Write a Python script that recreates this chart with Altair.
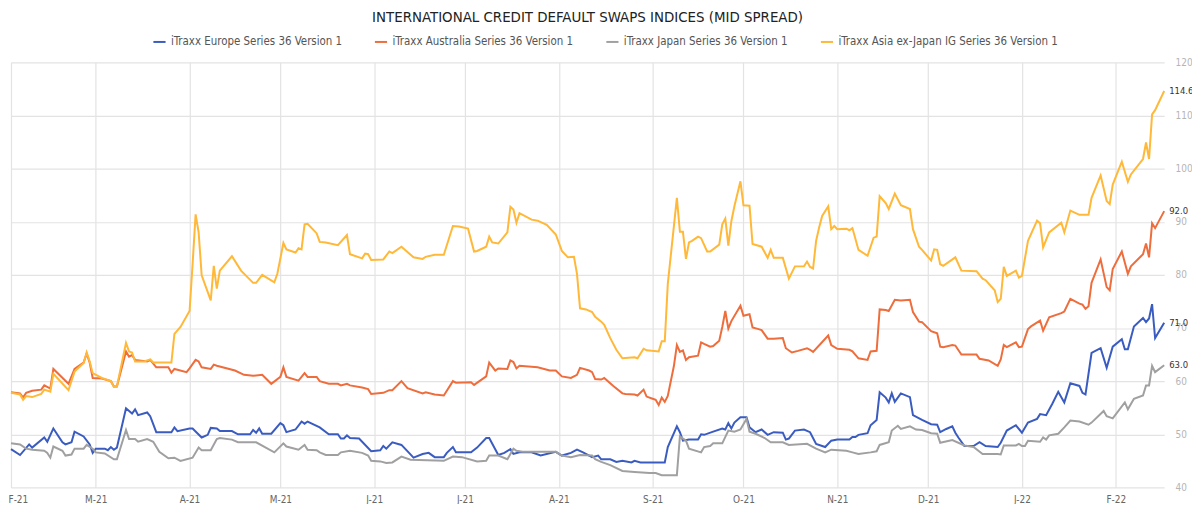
import altair as alt
import pandas as pd

FONT = "Liberation Sans Narrow, DejaVu Sans Condensed, sans-serif"

SERIES = [
    "iTraxx Europe Series 36 Version 1",
    "iTraxx Australia Series 36 Version 1",
    "iTraxx Japan Series 36 Version 1",
    "iTraxx Asia ex-Japan IG Series 36 Version 1",
]
COLORS = ["#3a5cc0", "#ee6d3c", "#a0a0a0", "#ffb837"]

EUROPE_DATES = [
    "2021-02-01", "2021-02-04", "2021-02-07", "2021-02-08", "2021-02-12", "2021-02-13", "2021-02-15",
    "2021-02-18", "2021-02-19", "2021-02-21", "2021-02-22", "2021-02-25", "2021-02-27", "2021-02-28",
    "2021-03-01", "2021-03-04", "2021-03-05", "2021-03-06", "2021-03-07", "2021-03-08", "2021-03-11",
    "2021-03-13", "2021-03-14", "2021-03-15", "2021-03-18", "2021-03-19", "2021-03-21", "2021-03-26",
    "2021-03-27", "2021-03-28", "2021-04-01", "2021-04-02", "2021-04-05", "2021-04-07", "2021-04-08",
    "2021-04-10", "2021-04-11", "2021-04-15", "2021-04-17", "2021-04-21", "2021-04-22", "2021-04-23",
    "2021-04-24", "2021-04-25", "2021-04-28", "2021-05-01", "2021-05-02", "2021-05-03", "2021-05-06",
    "2021-05-08", "2021-05-09", "2021-05-10", "2021-05-14", "2021-05-17", "2021-05-20", "2021-05-21",
    "2021-05-22", "2021-05-23", "2021-05-24", "2021-05-27", "2021-05-31", "2021-06-03", "2021-06-04",
    "2021-06-05", "2021-06-07", "2021-06-10", "2021-06-14", "2021-06-17", "2021-06-19", "2021-06-21",
    "2021-06-24", "2021-06-25", "2021-06-27", "2021-06-28", "2021-07-03", "2021-07-05", "2021-07-08",
    "2021-07-09", "2021-07-12", "2021-07-14", "2021-07-16", "2021-07-17", "2021-07-19", "2021-07-23",
    "2021-07-26", "2021-07-31", "2021-08-02", "2021-08-05", "2021-08-07", "2021-08-09", "2021-08-12",
    "2021-08-14", "2021-08-15", "2021-08-18", "2021-08-20", "2021-08-22", "2021-08-25", "2021-08-26",
    "2021-08-28", "2021-09-03", "2021-09-05", "2021-09-06", "2021-09-09", "2021-09-10", "2021-09-11",
    "2021-09-13", "2021-09-16", "2021-09-17", "2021-09-18", "2021-09-21", "2021-09-24", "2021-09-25",
    "2021-09-26", "2021-09-27", "2021-09-28", "2021-09-30", "2021-10-02", "2021-10-03", "2021-10-05",
    "2021-10-07", "2021-10-09", "2021-10-11", "2021-10-14", "2021-10-15", "2021-10-16", "2021-10-18",
    "2021-10-21", "2021-10-23", "2021-10-25", "2021-10-28", "2021-10-30", "2021-11-01", "2021-11-05",
    "2021-11-06", "2021-11-07", "2021-11-08", "2021-11-11", "2021-11-12", "2021-11-14", "2021-11-15",
    "2021-11-17", "2021-11-18", "2021-11-19", "2021-11-20", "2021-11-22", "2021-11-25", "2021-11-26",
    "2021-11-29", "2021-12-02", "2021-12-04", "2021-12-05", "2021-12-07", "2021-12-09", "2021-12-10",
    "2021-12-11", "2021-12-13", "2021-12-16", "2021-12-18", "2021-12-20", "2021-12-24", "2021-12-25",
    "2021-12-27", "2021-12-30", "2022-01-01", "2022-01-03", "2022-01-06", "2022-01-07", "2022-01-09",
    "2022-01-11", "2022-01-13", "2022-01-15", "2022-01-17", "2022-01-20", "2022-01-21", "2022-01-22",
    "2022-01-24", "2022-01-27", "2022-01-29", "2022-01-31", "2022-02-03", "2022-02-04", "2022-02-05",
    "2022-02-07", "2022-02-10", "2022-02-11", "2022-02-12", "2022-02-13", "2022-02-14", "2022-02-17",
]
EUROPE_VALUES = [
    47.2, 46.1, 48.1, 47.5, 49.4, 48.6, 51.1,
    48.5, 48.1, 48.5, 50.5, 49.6, 48.1, 46.5,
    47.3, 47.3, 47.0, 47.6, 47.1, 47.5, 54.9,
    53.9, 54.7, 53.6, 54.1, 53.4, 50.4, 50.4,
    51.3, 50.6, 51.1, 51.1, 49.4, 49.9, 51.2,
    51.1, 50.6, 50.6, 50.0, 50.0, 50.8, 50.3,
    51.1, 50.1, 50.1, 52.1, 51.7, 50.4, 50.9,
    52.4, 52.0, 52.4, 51.3, 50.0, 50.0, 49.2,
    49.2, 49.8, 49.3, 49.2, 46.8, 47.0, 47.8,
    47.3, 48.5, 48.0, 45.6, 46.3, 46.5, 45.7,
    45.7, 46.5, 47.6, 46.6, 46.6, 47.5, 49.3,
    49.3, 46.1, 46.5, 47.2, 46.3, 46.6, 46.6,
    46.0, 46.7, 46.0, 46.5, 47.1, 46.6, 45.7,
    46.0, 45.3, 45.3, 44.8, 45.0, 44.7, 45.0,
    44.7, 44.7, 44.7, 47.6, 51.5, 50.4, 48.8,
    49.0, 49.0, 50.0, 49.9, 50.5, 51.1, 50.9,
    52.1, 51.1, 52.2, 53.2, 53.2, 51.3, 50.4,
    50.9, 49.9, 50.4, 50.3, 49.0, 49.2, 50.7,
    50.9, 50.4, 48.2, 47.6, 48.8, 49.0, 49.0,
    49.5, 49.5, 49.9, 50.2, 51.7, 52.7, 57.9,
    56.9, 56.0, 57.7, 56.1, 57.7, 57.0, 53.6,
    52.7, 51.9, 51.8, 50.4, 51.0, 51.5, 50.3,
    49.4, 47.8, 47.8, 48.5, 47.8, 47.6, 48.4,
    50.7, 51.7, 50.3, 52.2, 52.9, 53.8, 53.6,
    55.7, 58.0, 56.0, 59.6, 59.1, 57.8, 57.5,
    65.3, 66.2, 62.5, 66.5, 67.9, 66.0, 66.0,
    70.3, 71.9, 71.1, 71.8, 74.5, 68.1, 71.0,
]

AUSTRALIA_DATES = [
    "2021-02-01", "2021-02-04", "2021-02-05", "2021-02-06", "2021-02-08", "2021-02-11", "2021-02-12",
    "2021-02-14", "2021-02-15", "2021-02-20", "2021-02-22", "2021-02-25", "2021-02-26", "2021-02-27",
    "2021-02-28", "2021-03-03", "2021-03-06", "2021-03-07", "2021-03-08", "2021-03-11", "2021-03-12",
    "2021-03-13", "2021-03-14", "2021-03-18", "2021-03-19", "2021-03-21", "2021-03-25", "2021-03-26",
    "2021-03-27", "2021-03-31", "2021-04-01", "2021-04-03", "2021-04-04", "2021-04-05", "2021-04-08",
    "2021-04-09", "2021-04-10", "2021-04-16", "2021-04-19", "2021-04-22", "2021-04-25", "2021-04-28",
    "2021-05-01", "2021-05-02", "2021-05-03", "2021-05-07", "2021-05-09", "2021-05-10", "2021-05-13",
    "2021-05-14", "2021-05-17", "2021-05-20", "2021-05-21", "2021-05-23", "2021-05-24", "2021-05-28",
    "2021-05-30", "2021-05-31", "2021-06-04", "2021-06-06", "2021-06-07", "2021-06-10", "2021-06-12",
    "2021-06-17", "2021-06-18", "2021-06-21", "2021-06-24", "2021-06-27", "2021-06-28", "2021-07-03",
    "2021-07-04", "2021-07-08", "2021-07-09", "2021-07-11", "2021-07-12", "2021-07-15", "2021-07-16",
    "2021-07-17", "2021-07-18", "2021-07-19", "2021-07-25", "2021-07-29", "2021-07-31", "2021-08-02",
    "2021-08-05", "2021-08-07", "2021-08-08", "2021-08-11", "2021-08-12", "2021-08-13", "2021-08-15",
    "2021-08-16", "2021-08-19", "2021-08-22", "2021-08-23", "2021-08-26", "2021-08-27", "2021-08-29",
    "2021-08-30", "2021-09-01", "2021-09-02", "2021-09-03", "2021-09-04", "2021-09-05", "2021-09-06",
    "2021-09-08", "2021-09-09", "2021-09-10", "2021-09-11", "2021-09-12", "2021-09-13", "2021-09-16",
    "2021-09-17", "2021-09-18", "2021-09-20", "2021-09-21", "2021-09-23", "2021-09-24", "2021-09-25",
    "2021-09-26", "2021-09-27", "2021-09-30", "2021-10-01", "2021-10-03", "2021-10-04", "2021-10-06",
    "2021-10-07", "2021-10-09", "2021-10-11", "2021-10-14", "2021-10-15", "2021-10-17", "2021-10-19",
    "2021-10-22", "2021-10-23", "2021-10-24", "2021-10-29", "2021-10-30", "2021-11-01", "2021-11-05",
    "2021-11-06", "2021-11-08", "2021-11-11", "2021-11-12", "2021-11-14", "2021-11-15", "2021-11-17",
    "2021-11-18", "2021-11-20", "2021-11-22", "2021-11-25", "2021-11-26", "2021-11-28", "2021-11-29",
    "2021-12-02", "2021-12-04", "2021-12-05", "2021-12-06", "2021-12-09", "2021-12-10", "2021-12-12",
    "2021-12-17", "2021-12-18", "2021-12-21", "2021-12-24", "2021-12-25", "2021-12-26", "2021-12-27",
    "2021-12-30", "2021-12-31", "2022-01-01", "2022-01-03", "2022-01-04", "2022-01-07", "2022-01-08",
    "2022-01-10", "2022-01-14", "2022-01-15", "2022-01-17", "2022-01-20", "2022-01-21", "2022-01-22",
    "2022-01-23", "2022-01-24", "2022-01-27", "2022-01-29", "2022-01-30", "2022-01-31", "2022-02-03",
    "2022-02-05", "2022-02-06", "2022-02-10", "2022-02-11", "2022-02-12", "2022-02-13", "2022-02-14",
    "2022-02-17",
]
AUSTRALIA_VALUES = [
    57.9, 57.7, 56.9, 57.8, 58.2, 58.4, 59.2,
    58.6, 62.3, 59.5, 62.3, 63.5, 65.2, 63.5,
    60.6, 60.5, 60.0, 59.0, 59.0, 65.6, 64.6,
    64.9, 64.0, 63.7, 64.0, 62.6, 62.6, 61.6,
    62.3, 61.7, 62.4, 64.0, 63.7, 62.6, 62.3,
    63.1, 62.9, 62.0, 61.2, 61.0, 61.2, 59.5,
    60.8, 62.6, 60.8, 60.1, 61.5, 60.8, 60.8,
    60.0, 59.5, 59.5, 59.2, 59.5, 59.2, 58.8,
    58.5, 57.6, 57.8, 58.3, 58.3, 60.0, 58.7,
    57.7, 57.9, 57.5, 57.3, 60.0, 59.7, 59.8,
    59.3, 60.9, 63.5, 62.0, 62.4, 62.3, 63.9,
    63.6, 62.4, 62.9, 62.6, 62.0, 62.0, 60.9,
    60.6, 61.2, 62.5, 62.0, 61.7, 60.4, 60.3,
    60.6, 59.1, 57.7, 57.6, 57.5, 57.3, 58.4,
    57.1, 56.7, 56.5, 55.5, 56.9, 56.1, 57.2,
    62.8, 66.8, 65.5, 65.8, 64.0, 64.5, 64.8,
    67.3, 67.0, 66.5, 66.6, 67.6, 70.2, 73.2,
    69.9, 71.3, 74.2, 72.3, 72.6, 70.1, 69.8,
    69.6, 68.0, 68.0, 68.1, 66.2, 65.4, 65.7,
    66.2, 65.9, 65.5, 68.6, 66.8, 66.1, 65.9,
    65.6, 64.3, 64.0, 65.6, 65.7, 73.5, 73.4,
    73.2, 75.3, 75.2, 75.3, 73.0, 71.2, 71.1,
    69.4, 69.0, 66.5, 66.4, 66.8, 66.7, 65.0,
    65.0, 64.2, 63.9, 62.9, 64.1, 66.8, 66.4,
    67.3, 66.4, 66.5, 69.8, 70.3, 71.4, 69.5,
    72.0, 72.8, 73.1, 75.5, 74.6, 74.4, 73.6,
    74.1, 78.5, 82.9, 77.7, 77.1, 81.1, 84.4,
    80.2, 81.6, 83.9, 85.9, 83.3, 89.7, 88.8,
    92.0,
]

JAPAN_DATES = [
    "2021-02-01", "2021-02-04", "2021-02-06", "2021-02-08", "2021-02-12", "2021-02-13", "2021-02-14",
    "2021-02-15", "2021-02-18", "2021-02-19", "2021-02-21", "2021-02-22", "2021-02-25", "2021-02-26",
    "2021-02-28", "2021-03-01", "2021-03-04", "2021-03-07", "2021-03-08", "2021-03-11", "2021-03-12",
    "2021-03-14", "2021-03-15", "2021-03-18", "2021-03-20", "2021-03-22", "2021-03-25", "2021-03-27",
    "2021-03-29", "2021-04-02", "2021-04-04", "2021-04-05", "2021-04-08", "2021-04-10", "2021-04-11",
    "2021-04-15", "2021-04-17", "2021-04-23", "2021-04-29", "2021-05-02", "2021-05-03", "2021-05-07",
    "2021-05-09", "2021-05-10", "2021-05-13", "2021-05-14", "2021-05-16", "2021-05-20", "2021-05-21",
    "2021-05-24", "2021-05-28", "2021-05-30", "2021-05-31", "2021-06-03", "2021-06-05", "2021-06-07",
    "2021-06-10", "2021-06-13", "2021-06-24", "2021-06-27", "2021-06-30", "2021-07-05", "2021-07-08",
    "2021-07-09", "2021-07-12", "2021-07-15", "2021-07-17", "2021-07-18", "2021-07-20", "2021-07-31",
    "2021-08-02", "2021-08-05", "2021-08-08", "2021-08-12", "2021-08-13", "2021-08-15", "2021-08-18",
    "2021-08-22", "2021-08-26", "2021-08-31", "2021-09-02", "2021-09-04", "2021-09-09", "2021-09-10",
    "2021-09-12", "2021-09-13", "2021-09-17", "2021-09-18", "2021-09-20", "2021-09-21", "2021-09-24",
    "2021-09-26", "2021-09-28", "2021-09-30", "2021-10-02", "2021-10-03", "2021-10-05", "2021-10-08",
    "2021-10-10", "2021-10-14", "2021-10-16", "2021-10-22", "2021-10-25", "2021-10-28", "2021-10-30",
    "2021-11-04", "2021-11-06", "2021-11-08", "2021-11-12", "2021-11-14", "2021-11-15", "2021-11-18",
    "2021-11-19", "2021-11-21", "2021-11-22", "2021-11-25", "2021-11-27", "2021-11-29", "2021-12-02",
    "2021-12-04", "2021-12-05", "2021-12-09", "2021-12-13", "2021-12-16", "2021-12-19", "2021-12-24",
    "2021-12-25", "2021-12-26", "2021-12-30", "2021-12-31", "2022-01-01", "2022-01-02", "2022-01-03",
    "2022-01-07", "2022-01-08", "2022-01-09", "2022-01-10", "2022-01-13", "2022-01-15", "2022-01-17",
    "2022-01-20", "2022-01-23", "2022-01-24", "2022-01-28", "2022-01-29", "2022-01-31", "2022-02-04",
    "2022-02-05", "2022-02-07", "2022-02-10", "2022-02-11", "2022-02-12", "2022-02-13", "2022-02-14",
    "2022-02-17",
]
JAPAN_VALUES = [
    48.3, 48.1, 47.3, 47.1, 46.9, 46.5, 45.6,
    47.7, 46.9, 46.0, 46.2, 47.3, 47.3, 48.0,
    47.3, 46.6, 46.4, 45.3, 45.3, 50.8, 49.1,
    49.1, 48.6, 49.1, 48.6, 46.7, 45.5, 45.6,
    45.0, 45.6, 47.5, 47.0, 47.0, 49.1, 49.3,
    49.0, 48.5, 48.5, 46.6, 48.3, 47.7, 47.1,
    48.0, 47.1, 47.0, 46.6, 46.1, 46.1, 46.6,
    46.9, 46.5, 46.0, 45.0, 44.9, 44.6, 44.7,
    45.8, 45.2, 45.0, 45.8, 45.7, 44.9, 45.0,
    46.0, 46.0, 45.3, 47.3, 46.9, 46.7, 46.7,
    46.0, 45.7, 46.1, 46.0, 45.3, 44.8, 44.2,
    43.1, 42.9, 42.7, 42.7, 42.3, 42.3, 49.6,
    48.8, 47.3, 46.6, 47.6, 47.8, 48.3, 48.3,
    50.7, 50.5, 50.9, 52.9, 50.5, 50.1, 49.3,
    48.5, 48.5, 48.0, 48.2, 47.3, 46.6, 47.1,
    46.9, 46.6, 46.3, 46.6, 46.8, 48.0, 48.5,
    50.7, 51.6, 51.0, 51.5, 50.9, 50.8, 50.2,
    50.1, 48.4, 48.9, 47.9, 47.6, 46.3, 46.3,
    46.2, 47.9, 47.9, 48.2, 47.8, 47.8, 48.8,
    48.6, 49.4, 49.0, 49.8, 50.1, 51.3, 52.6,
    52.4, 51.8, 52.2, 54.4, 53.4, 53.0, 56.0,
    54.7, 56.7, 57.3, 59.2, 59.2, 62.9, 61.7,
    63.0,
]

ASIA_DATES = [
    "2021-02-01", "2021-02-04", "2021-02-05", "2021-02-06", "2021-02-08", "2021-02-11", "2021-02-12",
    "2021-02-14", "2021-02-15", "2021-02-20", "2021-02-22", "2021-02-25", "2021-02-26", "2021-02-27",
    "2021-02-28", "2021-03-03", "2021-03-06", "2021-03-07", "2021-03-08", "2021-03-11", "2021-03-12",
    "2021-03-13", "2021-03-14", "2021-03-17", "2021-03-19", "2021-03-20", "2021-03-26", "2021-03-27",
    "2021-03-29", "2021-04-01", "2021-04-02", "2021-04-03", "2021-04-04", "2021-04-05", "2021-04-08",
    "2021-04-09", "2021-04-10", "2021-04-11", "2021-04-15", "2021-04-18", "2021-04-22", "2021-04-23",
    "2021-04-25", "2021-04-29", "2021-04-30", "2021-05-02", "2021-05-03", "2021-05-06", "2021-05-07",
    "2021-05-08", "2021-05-09", "2021-05-10", "2021-05-13", "2021-05-14", "2021-05-16", "2021-05-20",
    "2021-05-23", "2021-05-24", "2021-05-28", "2021-05-29", "2021-05-30", "2021-05-31", "2021-06-04",
    "2021-06-06", "2021-06-07", "2021-06-10", "2021-06-14", "2021-06-17", "2021-06-18", "2021-06-21",
    "2021-06-24", "2021-06-27", "2021-06-29", "2021-07-02", "2021-07-04", "2021-07-05", "2021-07-08",
    "2021-07-09", "2021-07-10", "2021-07-12", "2021-07-15", "2021-07-16", "2021-07-17", "2021-07-18",
    "2021-07-19", "2021-07-23", "2021-07-25", "2021-07-28", "2021-07-31", "2021-08-02", "2021-08-04",
    "2021-08-06", "2021-08-07", "2021-08-08", "2021-08-10", "2021-08-12", "2021-08-13", "2021-08-15",
    "2021-08-16", "2021-08-18", "2021-08-20", "2021-08-22", "2021-08-26", "2021-08-27", "2021-08-29",
    "2021-08-30", "2021-09-03", "2021-09-04", "2021-09-05", "2021-09-06", "2021-09-09", "2021-09-10",
    "2021-09-11", "2021-09-12", "2021-09-13", "2021-09-14", "2021-09-16", "2021-09-17", "2021-09-19",
    "2021-09-20", "2021-09-23", "2021-09-24", "2021-09-25", "2021-09-26", "2021-09-27", "2021-09-28",
    "2021-09-30", "2021-10-01", "2021-10-03", "2021-10-04", "2021-10-07", "2021-10-09", "2021-10-10",
    "2021-10-11", "2021-10-14", "2021-10-16", "2021-10-18", "2021-10-21", "2021-10-22", "2021-10-23",
    "2021-10-24", "2021-10-25", "2021-10-26", "2021-10-27", "2021-10-29", "2021-10-30", "2021-10-31",
    "2021-11-01", "2021-11-04", "2021-11-05", "2021-11-06", "2021-11-08", "2021-11-11", "2021-11-13",
    "2021-11-14", "2021-11-15", "2021-11-17", "2021-11-18", "2021-11-20", "2021-11-22", "2021-11-25",
    "2021-11-26", "2021-11-28", "2021-11-29", "2021-12-02", "2021-12-03", "2021-12-04", "2021-12-05",
    "2021-12-06", "2021-12-10", "2021-12-12", "2021-12-17", "2021-12-19", "2021-12-20", "2021-12-23",
    "2021-12-24", "2021-12-25", "2021-12-26", "2021-12-27", "2021-12-30", "2021-12-31", "2022-01-01",
    "2022-01-03", "2022-01-06", "2022-01-07", "2022-01-08", "2022-01-10", "2022-01-14", "2022-01-15",
    "2022-01-17", "2022-01-20", "2022-01-23", "2022-01-24", "2022-01-27", "2022-01-29", "2022-01-30",
    "2022-01-31", "2022-02-03", "2022-02-05", "2022-02-06", "2022-02-10", "2022-02-11", "2022-02-12",
    "2022-02-13", "2022-02-14", "2022-02-17",
]
ASIA_VALUES = [
    57.8, 57.5, 56.5, 57.2, 57.0, 57.6, 58.4,
    58.0, 61.4, 58.3, 61.8, 63.4, 65.4, 63.7,
    61.5, 60.6, 60.0, 58.9, 59.0, 67.2, 65.6,
    65.4, 63.7, 63.7, 64.1, 63.5, 63.5, 68.9,
    70.2, 73.2, 82.0, 91.4, 88.0, 79.9, 75.2,
    81.7, 77.4, 80.8, 83.5, 80.8, 78.5, 78.5,
    80.0, 78.6, 80.2, 86.0, 84.8, 84.2, 85.0,
    84.8, 89.5, 89.6, 87.8, 86.2, 86.1, 85.6,
    87.5, 83.9, 83.1, 84.0, 83.9, 82.8, 82.9,
    84.4, 84.1, 85.3, 83.3, 83.0, 83.4, 83.8,
    83.8, 89.2, 89.1, 88.7, 84.4, 84.5, 85.3,
    87.2, 86.1, 85.9, 88.0, 92.8, 92.3, 89.8,
    91.6, 90.4, 90.2, 89.4, 87.6, 84.5, 83.3,
    83.4, 80.2, 73.7, 73.5, 73.0, 72.1, 71.2,
    70.6, 68.1, 65.9, 64.3, 64.5, 64.3, 66.1,
    65.8, 65.6, 67.5, 67.5, 78.3, 94.5, 88.1,
    88.1, 83.0, 86.1, 86.4, 87.2, 86.9, 84.4,
    84.4, 85.7, 89.5, 90.6, 85.5, 90.1, 92.9,
    97.6, 93.1, 93.0, 85.8, 85.3, 83.2, 84.7,
    83.2, 83.2, 79.3, 81.6, 81.6, 82.5, 81.5,
    81.2, 86.4, 88.9, 91.1, 92.9, 88.6, 89.2,
    88.6, 88.7, 88.4, 88.8, 84.7, 83.6, 87.0,
    87.2, 94.8, 93.5, 92.4, 95.3, 93.1, 92.4,
    88.6, 85.3, 84.7, 82.7, 84.8, 84.7, 82.0,
    81.7, 83.3, 80.8, 80.7, 79.3, 79.0, 77.1,
    74.9, 75.5, 81.5, 79.8, 80.8, 79.5, 79.8,
    86.4, 90.2, 89.7, 85.2, 88.0, 89.8, 88.0,
    92.1, 91.3, 91.3, 94.5, 98.7, 93.9, 93.3,
    97.0, 101.3, 97.5, 98.9, 101.8, 104.9, 101.8,
    110.2, 111.0, 114.6,
]

Y_TICKS = [40, 50, 60, 70, 80, 90, 100, 110, 120]

frames = []
for name, dates, values in zip(
    SERIES,
    [EUROPE_DATES, AUSTRALIA_DATES, JAPAN_DATES, ASIA_DATES],
    [EUROPE_VALUES, AUSTRALIA_VALUES, JAPAN_VALUES, ASIA_VALUES],
):
    frames.append(pd.DataFrame({"date": pd.to_datetime(dates), "spread": values, "index": name}))
df = pd.concat(frames, ignore_index=True)
last = df.groupby("index").tail(1)

x_scale = alt.Scale(domain=[alt.DateTime(year=2021, month=2, date=1),
                            alt.DateTime(year=2022, month=2, date=17)])
y_scale = alt.Scale(domain=[40, 120], nice=False, zero=False)

lines = (
    alt.Chart(df)
    .mark_line(strokeWidth=2)
    .encode(
        x=alt.X(
            "date:T",
            title=None,
            scale=x_scale,
            axis=alt.Axis(
                tickCount={"interval": "month", "step": 1},
                labelExpr="substring(timeFormat(datum.value, '%b'), 0, 1) + '-' + timeFormat(datum.value, '%y')",
                labelAlign=alt.condition("datum.index == 0", alt.value("left"), alt.value("center")),
                labelOffset=alt.condition("datum.index == 0", alt.value(-3), alt.value(0)),
                domain=False,
                ticks=False,
                labelPadding=7,
                labelFontSize=10,
                labelColor="#666666",
                labelFont=FONT,
                gridColor="#e3e3e3",
                gridWidth=1.2,
            ),
        ),
        y=alt.Y(
            "spread:Q",
            title=None,
            scale=y_scale,
            axis=alt.Axis(
                orient="right",
                values=Y_TICKS,
                domain=False,
                ticks=False,
                labelPadding=11,
                labelFontSize=10,
                labelColor="#b5b5b5",
                labelFont=FONT,
                gridColor="#e3e3e3",
                gridWidth=1.2,
            ),
        ),
        color=alt.Color(
            "index:N",
            scale=alt.Scale(domain=SERIES, range=COLORS),
            sort=SERIES,
            legend=alt.Legend(
                title=None,
                orient="none",
                legendX=142,
                legendY=-28,
                direction="horizontal",
                columns=4,
                columnPadding=28,
                symbolType="stroke",
                symbolStrokeWidth=2,
                symbolSize=150,
                labelFontSize=11.5,
                labelColor="#555555",
                labelFont=FONT,
                labelLimit=300,
            ),
        ),
    )
)

end_labels = (
    alt.Chart(last)
    .mark_text(align="left", dx=5, fontSize=9.5, color="#333333", font=FONT)
    .encode(
        x=alt.X("date:T", scale=x_scale),
        y=alt.Y("spread:Q", scale=y_scale),
        text=alt.Text("spread:Q", format=".1f"),
    )
)

chart = (
    (lines + end_labels)
    .properties(
        width=1161,
        height=428,
        padding={"left": 3, "top": 53, "right": 28, "bottom": 15},
        autosize=alt.AutoSizeParams(type="none"),
        title=alt.TitleParams(
            "INTERNATIONAL CREDIT DEFAULT SWAPS INDICES (MID SPREAD)",
            anchor="middle",
            font=FONT,
            fontSize=15,
            fontWeight="normal",
            color="#222222",
            offset=10,
        ),
    )
    .configure_view(strokeWidth=0)
)

chart.save("out.html", embed_options={"renderer": "svg", "actions": False})
